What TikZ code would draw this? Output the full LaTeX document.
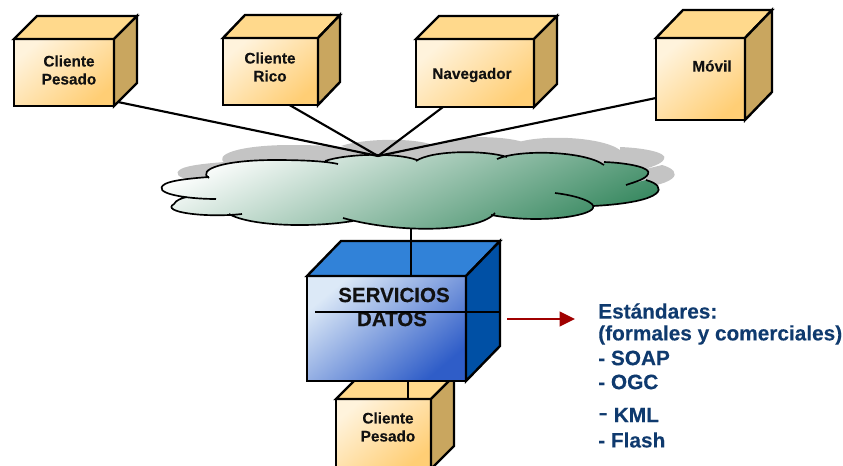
\documentclass[tikz,border=0pt]{standalone}
\usepackage{fontspec}
\setmainfont[BoldFeatures={FakeBold=0.25}]{Liberation Sans}
\usetikzlibrary{calc,fit,arrows.meta}
\definecolor{inkText}{HTML}{111111}
\definecolor{navyText}{HTML}{0F3A6E}
\definecolor{creamA}{HTML}{FFF3DC}
\definecolor{creamB}{HTML}{FFCE75}
\definecolor{orangeTop}{HTML}{FFD98C}
\definecolor{orangeSide}{HTML}{C9A65F}
\definecolor{blueA}{HTML}{DCE9F7}
\definecolor{blueB}{HTML}{2F5DC8}
\definecolor{blueTop}{HTML}{3182D8}
\definecolor{blueSide}{HTML}{0050A5}
\definecolor{cloudA}{HTML}{FFFFFF}
\definecolor{cloudB}{HTML}{35875E}
\definecolor{cloudShadow}{HTML}{C4C4C4}
\definecolor{arrowRed}{HTML}{A00000}
\tikzset{
  edgeline/.style={line width=1.8pt,line join=miter,draw=black},
  orangefront/.style={top color=creamA,bottom color=creamB,shading angle=40},
  orangetop/.style={fill=orangeTop},
  orangeside/.style={fill=orangeSide},
  bluefront/.style={top color=blueA,bottom color=blueB,shading angle=40},
  bluetop/.style={fill=blueTop},
  blueside/.style={fill=blueSide},
  link/.style={line width=1.6pt,draw=black},
  smalltext/.style={text=inkText,align=center,inner sep=0pt,font=\fontsize{11.5}{13.5}\selectfont\bfseries},
  bigtext/.style={text=inkText,inner sep=0pt,font=\fontsize{15.4}{18}\selectfont\bfseries},
  stdtext/.style={text=navyText,inner sep=0pt,anchor=west,font=\fontsize{15.6}{18}\selectfont\bfseries},
}
% name, (x1,y1), (x2,y2), dx, dy, colour family
\newcommand{\cuboid}[6]{%
  \coordinate (#1-a) at #2;
  \coordinate (#1-b) at #3;
  \node[fit={(#1-a)(#1-b)},inner sep=0pt,outer sep=0pt,#6front,edgeline,draw] (#1) {};
  \path[#6top,edgeline,draw] (#1.north west) -- ++(#4,-#5) -- ($(#1.north east)+(#4,-#5)$) -- (#1.north east) -- cycle;
  \path[#6side,edgeline,draw] (#1.north east) -- ++(#4,-#5) -- ($(#1.south east)+(#4,-#5)$) -- (#1.south east) -- cycle;
}
\def\lobeA{(209,178) .. controls (197,170) and (222,160) .. (275,160) .. controls (300,160) and (325,161) .. (338,164)}
\def\lobeB{(325,161) .. controls (345,154) and (395,152) .. (417,160)}
\def\lobeC{(416,161) .. controls (432,150) and (485,150) .. (507,157)}
\def\lobeD{(497,159) .. controls (520,149) and (585,151) .. (604,165)}
\def\lobeE{(604,162) .. controls (630,163) and (652,168) .. (648,174) .. controls (646,179) and (635,182) .. (626,185)}
\def\lobeF{(646,180) .. controls (668,186) and (668,202) .. (593,206)}
\def\lobeG{(555,193) .. controls (580,196) and (596,203) .. (593,208) .. controls (590,216) and (540,224) .. (491,215)}
\def\lobeH{(495,213) .. controls (480,232) and (400,234) .. (343,218)}
\def\lobeI{(353,221) .. controls (310,228) and (250,226) .. (229,214)}
\def\lobeJ{(242,214) .. controls (205,218) and (160,212) .. (174,204) .. controls (176,200) and (182,198) .. (187,197)}
\def\lobeK{(216,199) .. controls (185,199) and (150,193) .. (165,184) .. controls (172,180) and (195,178) .. (209,177)}
\def\cloudOutline{\lobeA -- \lobeB -- \lobeC -- \lobeD -- \lobeE -- \lobeF -- \lobeG -- \lobeH -- \lobeI -- \lobeJ -- \lobeK -- cycle}
\begin{document}
\begin{tikzpicture}[x=0.75pt,y=-0.75pt]
\useasboundingbox (0,0) rectangle (843,465);
% cloud
\begin{scope}[shift={(16,-15)}]
  \fill[cloudShadow] \cloudOutline;
\end{scope}
\path[top color=cloudA,bottom color=cloudB,shading angle=25] \cloudOutline;
\draw[line width=1.25pt] \lobeA \lobeB \lobeC \lobeD \lobeE \lobeF \lobeG \lobeH \lobeI \lobeJ \lobeK;
\coordinate (hub) at (378,156);
\coordinate (cloudfoot) at (411,228);
% client boxes
\cuboid{pesadoA}{(14,39)}{(114,106)}{23}{23}{orange}
\cuboid{rico}{(223,38)}{(318,105)}{22}{23}{orange}
\cuboid{nav}{(416,39)}{(534,107)}{23}{23}{orange}
\cuboid{movil}{(656,38)}{(745,120)}{27}{28}{orange}
\node[smalltext] (pesadoAt) at (69,70) {Cliente\\Pesado};
\node[smalltext] (ricot) at (270,67) {Cliente\\Rico};
\node[smalltext] (navt) at (472,75) {Navegador};
\node[smalltext] (movilt) at (712,66) {Móvil};
% hub connectors
\draw[link] ($(pesadoA.south east)+(4,-4)$) -- (hub);
\draw[link] ($(rico.south)+(19,0)$) -- (hub);
\draw[link] ($(nav.south west)+(27,0)$) -- (hub);
\draw[link] ($(movil.west)+(0,19)$) -- (hub);
% bottom client, behind the server
\cuboid{pesadoB}{(336,399)}{(431,469)}{23}{23}{orange}
\node[smalltext] (pesadoBt) at (388,427) {Cliente\\Pesado};
% server
\cuboid{serv}{(307,276)}{(466,381)}{34}{35}{blue}
\node[bigtext] (servt) at (394,295) {SERVICIOS};
\node[bigtext] (datost) at (392,319) {DATOS};
\draw[link] (cloudfoot) -- ($(serv.north)+(24.5,0)$);
\draw[link] ($(serv.south)+(21.5,0)$) -- ($(pesadoB.north)+(24.5,0)$);
\draw[link] ($(serv.north west)+(8,36)$) -- ($(serv.north east)+(34,36)$);
% arrow
\coordinate (arrowstart) at (507,319);
\node[stdtext] (std1) at (598,311) {Estándares:};
\node[stdtext] (std2) at (598,335) {(formales y comerciales)};
\node[stdtext] (std3) at (598,358) {- SOAP};
\node[stdtext] (std4) at (598,382) {- OGC};
\node[stdtext] (std5) at (598,415) {{\fontsize{22}{22}\selectfont\mdseries -} KML};
\node[stdtext] (std6) at (598,440) {- Flash};
\coordinate (arrowend) at (575,319);
\draw[line width=1.5pt,draw=arrowRed,-{Triangle[length=11.5pt,width=11pt,fill=arrowRed]}] (arrowstart) -- (arrowend);
\end{tikzpicture}
\end{document}
